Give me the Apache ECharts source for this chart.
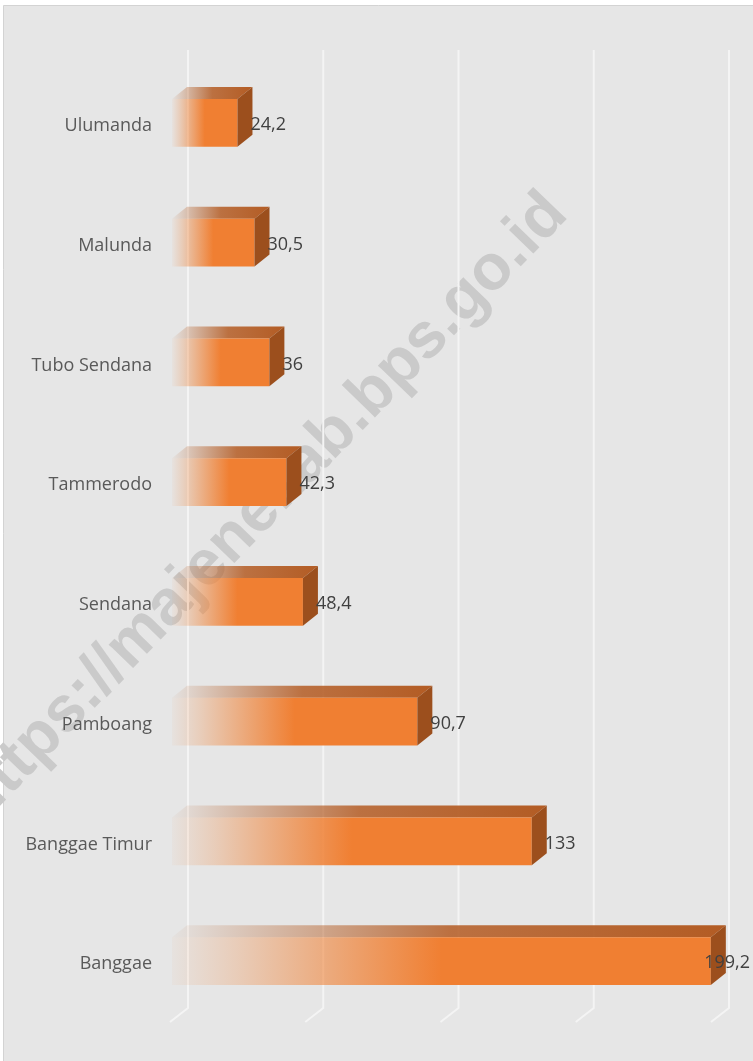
<!DOCTYPE html>
<html>
<head>
<meta charset="utf-8">
<script src="https://cdn.jsdelivr.net/npm/echarts@6/dist/echarts.min.js"></script>
<style>
  html, body { margin: 0; padding: 0; background: #fff; }
  #chart { width: 753px; height: 1061px; }
</style>
</head>
<body>
<div id="chart"></div>
<script>
// data
const categories = ['Ulumanda', 'Malunda', 'Tubo Sendana', 'Tammerodo', 'Sendana', 'Pamboang', 'Banggae Timur', 'Banggae']
const values = [24.2, 30.5, 36, 42.3, 48.4, 90.7, 133, 199.2]
const ticks = [0, 50, 100, 150, 200]

const W = 753
const depthX = 15
const depthY = 12
const labelFont = '18px "Open Sans", "Noto Sans", sans-serif'

const measure = document.createElement('canvas').getContext('2d')
measure.font = labelFont

function fmt (v) {
  return String(v).replace('.', ',')
}

const chart = echarts.init(document.getElementById('chart'))

chart.setOption({
  backgroundColor: '#fff',
  animation: false,
  graphic: [
    {
      type: 'rect',
      z: -10,
      silent: true,
      shape: { x: 3.5, y: 5.5, width: 800, height: 1100 },
      style: { fill: '#e6e6e6', stroke: '#d3d3d3', lineWidth: 1 }
    },
    {
      type: 'text',
      z: -5,
      silent: true,
      x: 263,
      y: 508,
      rotation: 46 * Math.PI / 180,
      style: {
        text: 'https://majenekab.bps.go.id',
        font: 'bold 64px "Liberation Sans", Arial, sans-serif',
        fill: '#cacaca',
        align: 'center',
        verticalAlign: 'middle'
      }
    }
  ],
  grid: {
    left: 172,
    right: 40,
    top: 63,
    bottom: 40
  },
  xAxis: {
    type: 'value',
    min: 0,
    max: 200,
    interval: 50,
    show: false
  },
  yAxis: {
    type: 'category',
    inverse: true,
    data: categories,
    axisLine: { show: false },
    axisTick: { show: false },
    axisLabel: {
      margin: 20,
      formatter: v => '{n|' + v + '}',
      rich: {
        n: {
          color: '#595959',
          fontSize: 18,
          padding: [6, 0, 0, 0],
          fontFamily: '"Open Sans", "Noto Sans", sans-serif'
        }
      }
    }
  },
  series: [
    {
      // gridlines on the back wall with the floor step
      type: 'custom',
      silent: true,
      z: 1,
      data: ticks.map(t => [t, 0]),
      encode: { x: 0, y: 1 },
      renderItem (params, api) {
        const cs = params.coordSys
        const x = api.coord([api.value(0), 0])[0]
        const bottom = cs.y + cs.height
        return {
          type: 'polyline',
          shape: {
            points: [[x + 16, 50], [x + 16, bottom - 13], [x - 2, bottom + 1]]
          },
          style: { stroke: '#f4f4f4', lineWidth: 2, fill: null }
        }
      }
    },
    {
      type: 'custom',
      z: 2,
      data: values.map((v, i) => [v, i]),
      encode: { x: 0, y: 1 },
      renderItem (params, api) {
        const v = api.value(0)
        const cat = api.value(1)
        const start = api.coord([0, cat])
        const end = api.coord([v, cat])
        const h = api.size([0, 1])[1] * 0.4
        const x0 = start[0]
        const x1 = end[0]
        const y0 = end[1] - h / 2
        const txt = fmt(v)
        const tw = measure.measureText(txt).width
        const lx = Math.min(x1 + 13, W - tw - 3)
        return {
          type: 'group',
          children: [
            {
              type: 'polygon',
              shape: {
                points: [[x0, y0], [x1, y0], [x1 + depthX, y0 - depthY], [x0 + depthX, y0 - depthY]]
              },
              style: {
                fill: new echarts.graphic.LinearGradient(0, 0, 1, 0, [
                  { offset: 0, color: 'rgba(180,92,36,0.03)' },
                  { offset: 0.5, color: 'rgba(180,92,36,0.85)' },
                  { offset: 1, color: '#b35c24' }
                ])
              }
            },
            {
              type: 'rect',
              shape: { x: x0, y: y0, width: x1 - x0, height: h },
              style: {
                fill: new echarts.graphic.LinearGradient(0, 0, 1, 0, [
                  { offset: 0, color: 'rgba(240,128,50,0.04)' },
                  { offset: 0.12, color: 'rgba(240,128,50,0.25)' },
                  { offset: 0.5, color: '#f07f32' },
                  { offset: 1, color: '#f07f32' }
                ])
              }
            },
            {
              type: 'polygon',
              shape: {
                points: [[x1, y0], [x1 + depthX, y0 - depthY], [x1 + depthX, y0 + h - depthY], [x1, y0 + h]]
              },
              style: { fill: '#9c4f1d' }
            },
            {
              type: 'text',
              x: lx,
              y: end[1] + 2,
              style: {
                text: txt,
                font: labelFont,
                fill: '#404040',
                align: 'left',
                verticalAlign: 'middle'
              }
            }
          ]
        }
      }
    }
  ]
})
</script>
</body>
</html>
